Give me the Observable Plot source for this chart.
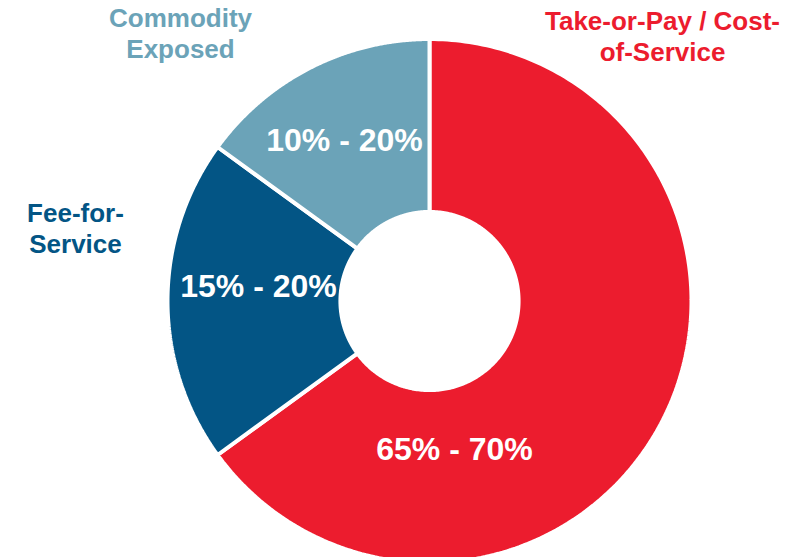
<!DOCTYPE html>
<html><head><meta charset="utf-8">
<script src="https://cdn.jsdelivr.net/npm/d3@7"></script>
<script src="https://cdn.jsdelivr.net/npm/@observablehq/plot@0.6"></script>
<style>html,body{margin:0;padding:0;background:#fff;overflow:hidden}</style>
</head><body><div id="chart"></div>
<script>
// ---- data ----
const categories = ["Take-or-Pay / Cost-of-Service", "Fee-for-Service", "Commodity Exposed"];
const shares = [65, 20, 15];
const rangeLabels = ["65% - 70%", "15% - 20%", "10% - 20%"];
const outerLabels = ["Take-or-Pay / Cost-\nof-Service", "Fee-for-\nService", "Commodity\nExposed"];
const colors = ["#EC1C2E", "#035585", "#6BA3B8"];

// ---- layout (pixels) ----
const W = 810, H = 557;
const CX = 429, CY = 300.5, R = 262;
const INNER = 0.34;
const innerPos = [[454, 459], [258, 296], [344, 150]];   // centre x, baseline
const outerPos = [[662, 60], [75, 252], [180, 57]];     // centre x, last baseline

const toX = px => (px - CX) / R;
const toY = py => (CY - py) / R;

// ---- geometry from data ----
const total = d3.sum(shares);
const polys = [];
let acc = 0;
categories.forEach((c, i) => {
  const a0 = acc / total * 2 * Math.PI;
  acc += shares[i];
  const a1 = acc / total * 2 * Math.PI;
  const n = 240, pts = [];
  for (let k = 0; k <= n; k++) { const a = a0 + (a1 - a0) * k / n; pts.push({c, x: Math.sin(a), y: Math.cos(a)}); }
  for (let k = n; k >= 0; k--) { const a = a0 + (a1 - a0) * k / n; pts.push({c, x: INNER * Math.sin(a), y: INNER * Math.cos(a)}); }
  pts.push({...pts[0]});
  polys.push(...pts);
});

const innerData = categories.map((c, i) => ({c, label: rangeLabels[i], x: toX(innerPos[i][0]), y: toY(innerPos[i][1])}));
const outerData = categories.map((c, i) => ({c, label: outerLabels[i], x: toX(outerPos[i][0]), y: toY(outerPos[i][1])}));

const font = "'Liberation Sans', Arial, Helvetica, sans-serif";

const chart = Plot.plot({
  width: W, height: H,
  margin: 0,
  x: {domain: [-1, 1], range: [CX - R, CX + R], axis: null},
  y: {domain: [-1, 1], range: [CY + R, CY - R], axis: null},
  color: {domain: categories, range: colors},
  style: {background: "#fff", fontFamily: font},
  marks: [
    Plot.line(polys, {x: "x", y: "y", z: "c", fill: "c", stroke: "#fff", strokeWidth: 4, strokeLinejoin: "miter"}),
    Plot.text(innerData, {x: "x", y: "y", text: "label", fill: "#fff", fontSize: 32, fontWeight: "bold", lineAnchor: "bottom", textAnchor: "middle", fontFamily: font}),
    Plot.text(outerData, {x: "x", y: "y", text: "label", fill: "c", fontSize: 26, fontWeight: "bold", lineAnchor: "bottom", textAnchor: "middle", lineHeight: 1.18, fontFamily: font})
  ]
});
document.getElementById("chart").appendChild(chart);
</script>
</body></html>
